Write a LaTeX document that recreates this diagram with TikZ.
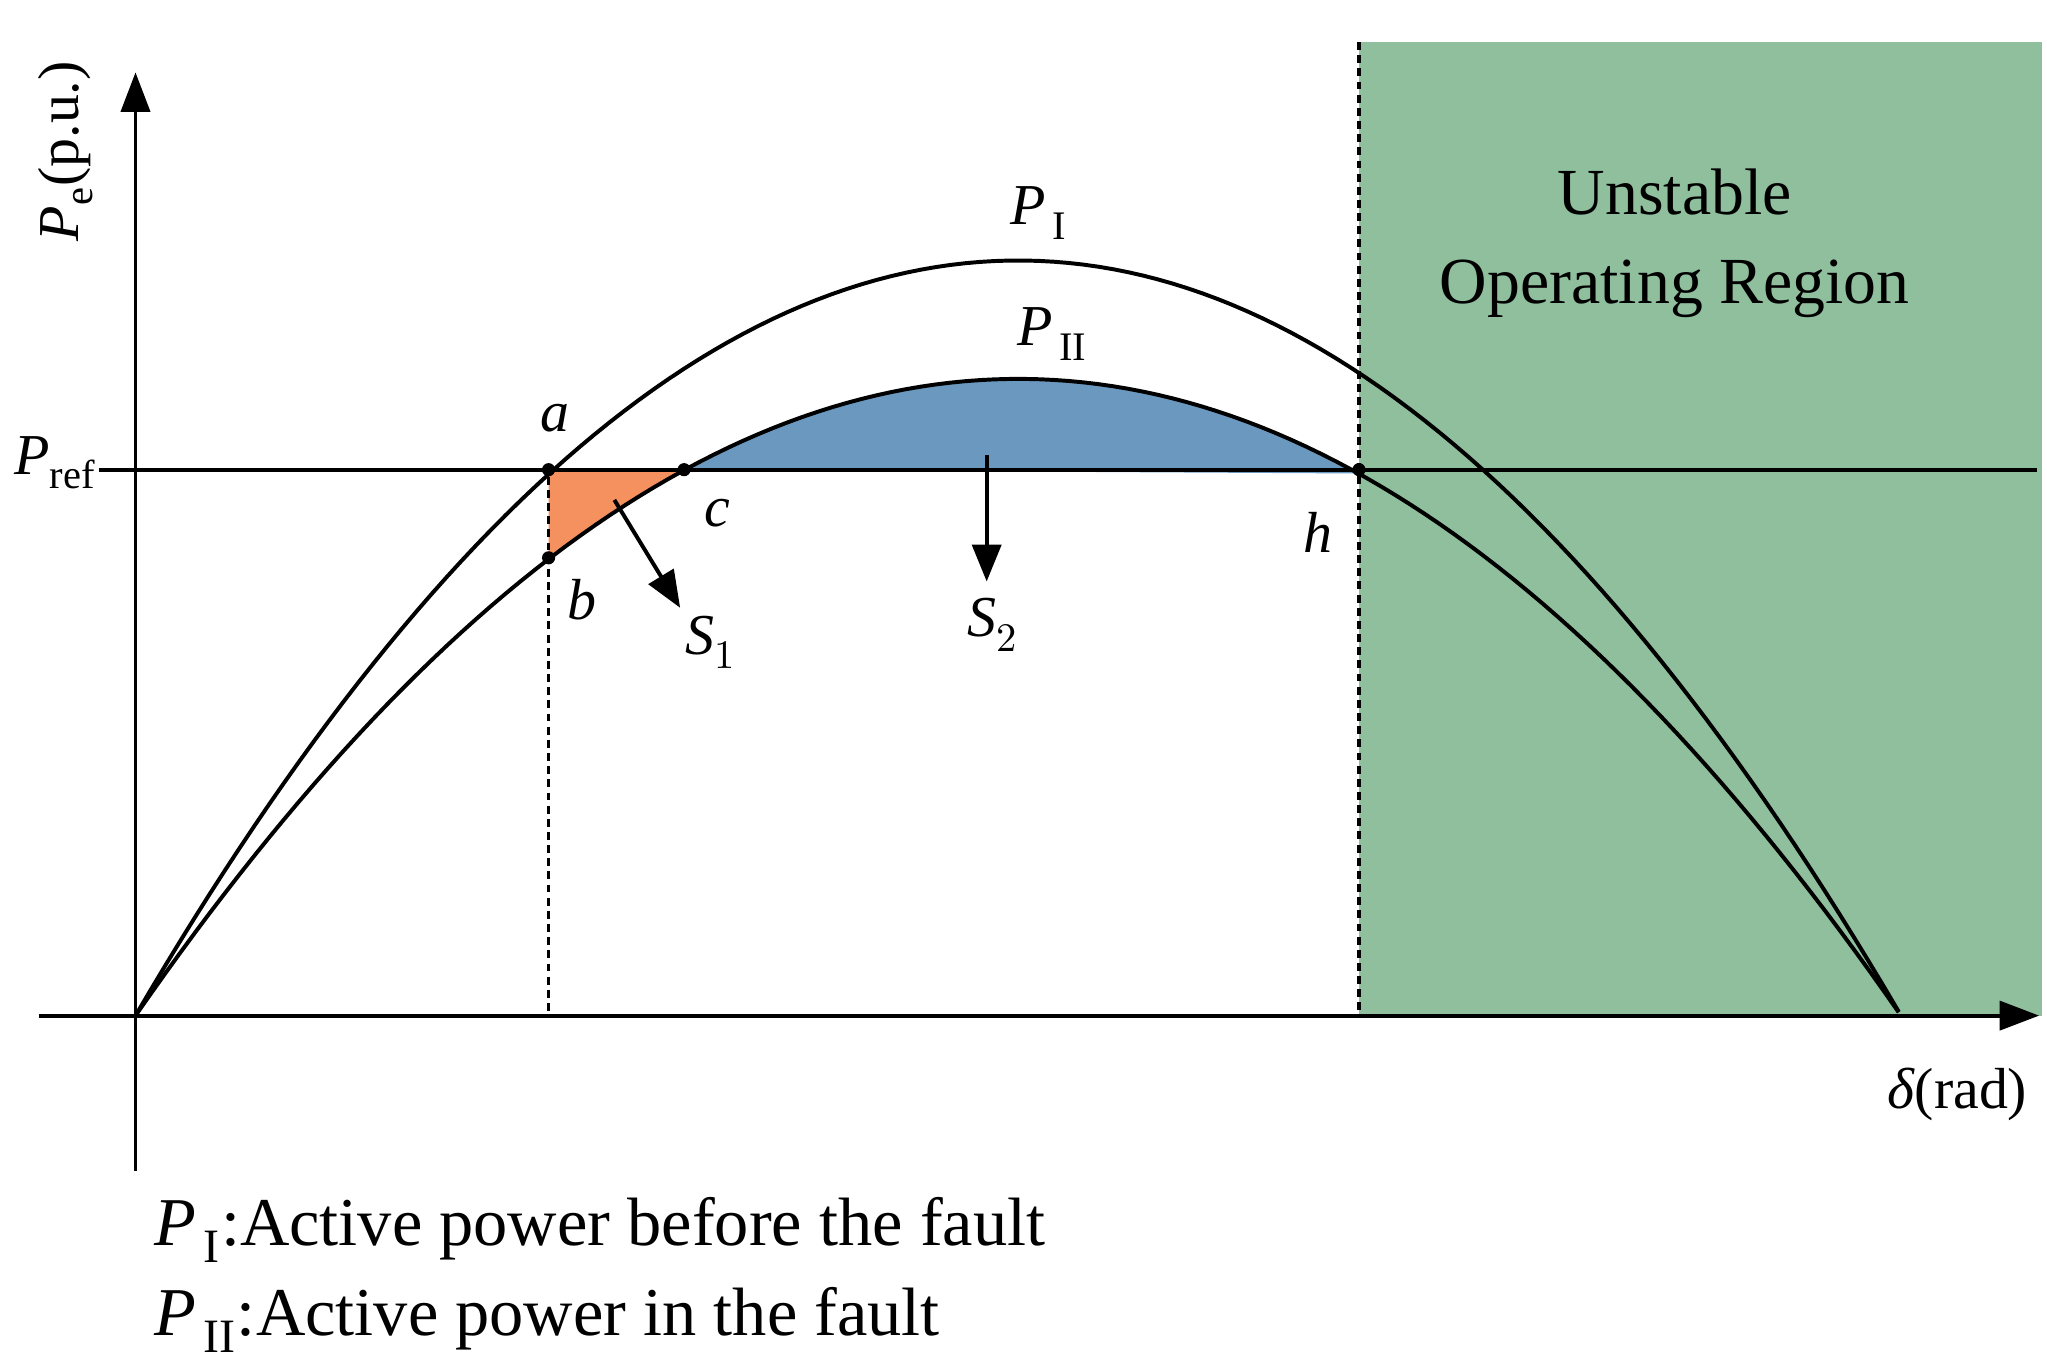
\documentclass[tikz,border=0pt]{standalone}
\usepackage{fontspec}
\setmainfont{Liberation Serif}
\usepackage{unicode-math}
\setmathfont{Latin Modern Math}
\setmathfont[range={it/{latin,Latin,greek}}]{Liberation Serif Italic}
\usetikzlibrary{arrows.meta}
\definecolor{grn}{HTML}{8FBF9D}
\definecolor{org}{HTML}{F4915E}
\definecolor{blu}{HTML}{6A98BE}
\begin{document}
\begin{tikzpicture}[x=0.5pt,y=-0.5pt,
  crv/.style={line width=1.5pt},
  ax/.style={line width=1.5pt,-{Triangle[length=15pt,width=11pt]}},
  ar/.style={line width=1.5pt,-{Triangle[length=14pt,width=11pt]}},
  dsh/.style={line width=1.2pt,dash pattern=on 3pt off 2pt},
  dot/.style={circle,fill,inner sep=0pt,minimum size=5pt},
  lbl/.style={font=\fontsize{22}{26}\selectfont},
  leg/.style={font=\fontsize{26}{30}\selectfont}]
\useasboundingbox (0,0) rectangle (1556,1035);
\fill[grn] (1033,32) rectangle (1552,772);
\fill[org] (417,357) -- plot[domain=0.234:0.311,samples=30] ({103+1342*\x},{772-4*484*\x*(1-\x)}) -- cycle;
\fill[blu] (520,357) -- plot[domain=0.311:0.693,samples=60] ({103+1342*\x},{772-4*484*\x*(1-\x)}) -- cycle;
\coordinate (yb) at (103,890); \coordinate (yt) at (103,55);
\coordinate (xl) at (30,772); \coordinate (xr) at (1550,772);
\draw[ax] (yb) -- (yt);
\draw[ax] (xl) -- (xr);
\coordinate (pl) at (75,357); \coordinate (pr) at (1548,357);
\draw[line width=1.5pt] (pl) -- (pr);
\node[dot] (a) at (417,357) {};
\node[dot] (b) at (417,424) {};
\node[dot] (c) at (520,357) {};
\node[dot] (h) at (1033,357) {};
\coordinate (d1) at (417,772); \coordinate (gt) at (1033,32); \coordinate (gb) at (1033,772);
\draw[dsh] (a) -- (d1);
\draw[dsh] (gt) -- (gb);
\draw[crv] plot[domain=0:1,samples=120] ({103+1342*\x},{772-4*574*\x*(1-\x)});
\draw[crv] plot[domain=0:1,samples=120] ({103+1342*\x},{772-4*484*\x*(1-\x)});
\coordinate (s1a) at (467,380); \coordinate (s1b) at (517,462);
\coordinate (s2a) at (750,346); \coordinate (s2b) at (750,442);
\draw[ar] (s1a) -- (s1b);
\draw[ar] (s2a) -- (s2b);
\node[lbl] (la) at (422,318) {$a$};
\node[lbl] (lb) at (442,456) {$b$};
\node[lbl] (lc) at (545,390) {$c$};
\node[lbl] (lh) at (1002,405) {$h$};
\node[lbl] (ls1) at (540,488) {$S_1$};
\node[lbl] (ls2) at (755,475) {$S_2$};
\node[lbl] (lp1) at (790,162) {$P_{\,\mathrm{I}}$};
\node[lbl] (lp2) at (800,254) {$P_{\,\mathrm{II}}$};
\node[lbl] (lpref) at (42,352) {$P_{\mathrm{ref}}$};
\node[lbl,rotate=90] (lpe) at (50,115) {$P_{\mathrm{e}}$(p.u.)};
\node[lbl] (ld) at (1488,832) {$\delta$(rad)};
\node[font=\fontsize{25}{34}\selectfont,align=center] (un) at (1273,185) {Unstable\\Operating Region};
\node[leg,anchor=west] (lg1) at (110,935) {$P_{\,\mathrm{I}}$:Active power before the fault};
\node[leg,anchor=west] (lg2) at (110,1003) {$P_{\,\mathrm{II}}$:Active power in the fault};
\end{tikzpicture}
\end{document}
